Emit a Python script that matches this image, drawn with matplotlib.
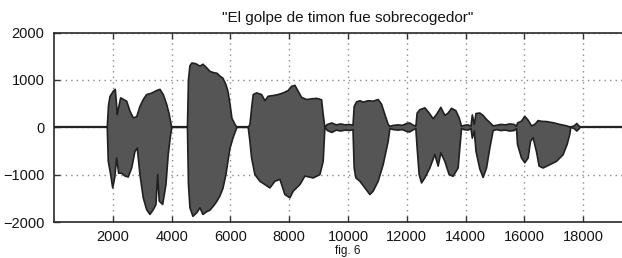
import numpy as np
import matplotlib.pyplot as plt

plt.rcParams['font.family'] = ['Liberation Sans', 'DejaVu Sans']

title = '"El golpe de timon fue sobrecogedor"'
caption = 'fig. 6'

upper_env = [
    (1812, 0), (1853, 450), (1904, 650), (2016, 760), (2084, 800), (2125, 500),
    (2152, 270), (2193, 400), (2268, 620), (2356, 590), (2472, 550), (2584, 340),
    (2696, 200), (2812, 220), (2924, 440), (3036, 585), (3152, 690), (3322, 720),
    (3492, 775), (3604, 800), (3716, 690), (3832, 485), (3920, 270), (4002, 0),
    (4539, 0), (4573, 1000), (4624, 1300), (4692, 1357), (4828, 1340), (4964, 1290),
    (5066, 1330), (5202, 1250), (5304, 1180), (5440, 1150), (5542, 1140), (5644, 1080),
    (5746, 1035), (5848, 900), (5916, 760), (5984, 500), (6052, 190), (6154, 60),
    (6222, 0), (6606, 0), (6664, 55), (6722, 410), (6776, 690), (6892, 725),
    (7062, 690), (7174, 560), (7286, 655), (7456, 670), (7626, 690), (7796, 725),
    (7966, 775), (8082, 865), (8194, 885), (8306, 760), (8422, 630), (8592, 585),
    (8762, 600), (8932, 610), (9102, 580), (9156, 270), (9214, 0),
    (9300, 60), (9450, 90), (9600, 50), (9750, 70), (9900, 50), (10050, 60), (10170, 40),
    (10210, 440), (10292, 535), (10404, 560), (10516, 530), (10686, 560), (10856, 550),
    (11026, 585), (11142, 485), (11254, 270), (11366, 60), (11424, 20),
    (11550, 40), (11700, 50), (11850, 40), (12000, 80), (12100, 90), (12200, 50), (12308, 20),
    (12352, 300), (12444, 370), (12614, 410), (12760, 300), (12896, 180), (13012, 270),
    (13158, 420), (13294, 250), (13406, 300), (13522, 400), (13668, 350), (13780, 200),
    (13862, 20), (13950, 40), (14080, 50), (14184, 20),
    (14228, 260), (14296, 60), (14354, 290), (14484, 300), (14596, 250), (14712, 165),
    (14824, 100), (14936, 30),
    (15050, 40), (15200, 60), (15350, 50), (15500, 70), (15650, 60), (15732, 20),
    (15766, 90), (15902, 130), (16014, 230), (16126, 150), (16242, 30), (16354, 60),
    (16466, 140), (16582, 125), (16752, 120), (16976, 95), (17204, 60), (17432, 30),
    (17568, 0), (17700, 30), (17780, 80), (17850, 30), (17900, 0),
]

lower_env = [
    (1812, 0), (1846, -720), (1928, -1000), (1996, -1280), (2064, -1070), (2132, -650),
    (2200, -970), (2302, -970), (2414, -1030), (2526, -1050), (2642, -860), (2754, -510),
    (2832, -440), (2924, -1000), (3036, -1490), (3152, -1740), (3264, -1840), (3376, -1740),
    (3468, -1630), (3526, -1000), (3580, -1560), (3696, -1630), (3808, -1210), (3886, -570),
    (3968, -150), (4012, 0),
    (4539, 0), (4573, -1200), (4624, -1700), (4726, -1880), (4862, -1800), (4964, -1700),
    (5066, -1840), (5202, -1780), (5304, -1750), (5440, -1650), (5542, -1560), (5644, -1450),
    (5746, -1290), (5848, -1000), (5916, -720), (5984, -450), (6086, -230), (6222, 0),
    (6606, 0), (6664, -300), (6722, -650), (6834, -1000), (7004, -1140), (7174, -1210),
    (7344, -1280), (7514, -1140), (7684, -1100), (7854, -1420), (8024, -1490), (8136, -1350),
    (8364, -1210), (8534, -1030), (8816, -1070), (9044, -1000), (9156, -720), (9214, 0),
    (9300, -70), (9450, -110), (9600, -60), (9750, -80), (9900, -60), (10050, -70), (10170, -50),
    (10210, -860), (10268, -1070), (10404, -1140), (10574, -1280), (10744, -1420), (10856, -1350),
    (11026, -1140), (11196, -790), (11366, -300), (11424, -30),
    (11550, -50), (11700, -60), (11850, -50), (12000, -90), (12100, -100), (12200, -60), (12308, -30),
    (12352, -440), (12420, -1000), (12502, -1175), (12614, -1070), (12784, -860), (12954, -575),
    (13066, -820), (13158, -540), (13294, -720), (13440, -1000), (13576, -1035), (13746, -860),
    (13804, -440), (13862, -30), (13950, -50), (14080, -60), (14184, -30),
    (14228, -230), (14296, -80), (14354, -510), (14484, -880), (14596, -1060), (14712, -860),
    (14824, -440), (14936, -70),
    (15050, -50), (15200, -70), (15350, -60), (15500, -80), (15650, -70), (15732, -30),
    (15766, -365), (15902, -650), (16014, -750), (16126, -650), (16208, -300), (16296, -220),
    (16412, -520), (16500, -820), (16636, -860), (16864, -790), (17092, -720), (17316, -580),
    (17452, -365), (17544, -150), (17578, 0), (17700, -30), (17780, -80), (17850, -40), (17900, 0),
]

x_ticks = [2000, 4000, 6000, 8000, 10000, 12000, 14000, 16000, 18000]
y_ticks = [-2000, -1000, 0, 1000, 2000]
silence_level = 0

hi = np.array(upper_env, dtype=float)
lo = np.array(lower_env, dtype=float)
poly_x = np.concatenate([hi[:, 0], lo[::-1, 0]])
poly_y = np.concatenate([hi[:, 1], lo[::-1, 1]])

fig = plt.figure(figsize=(6.22, 2.58), dpi=100)
# plot box runs past the right edge of the scan
ax = fig.add_axes([54 / 622, 36 / 258, 588 / 622, 189.5 / 258])

ax.axhline(silence_level, color='#222222', lw=1.6, zorder=2)
ax.fill(poly_x, poly_y, facecolor='#555555', edgecolor='#202020', lw=1.2,
        joinstyle='round', zorder=3)

ax.set_xlim(0, 20000)
ax.set_ylim(-2000, 2000)
ax.set_xticks(x_ticks)
ax.set_yticks(y_ticks)
ax.grid(True, color='#8a8a8a', linestyle=(0, (1, 3)), lw=1.0)
ax.tick_params(direction='in', top=True, right=True, length=4, width=1,
               labelsize=10.5, labelcolor='#141414', color='#333333')
ax.tick_params(axis='y', pad=7)
ax.tick_params(axis='x', pad=6)
for s in ax.spines.values():
    s.set_linewidth(1.2)
    s.set_color('#2a2a2a')

fig.text(348 / 622, 1 - 18 / 258, title, ha='center', va='center',
         fontsize=11, color='#141414')
fig.text(348 / 622, 1 - 257 / 258, caption, ha='center', va='bottom',
         fontsize=8.5, color='#141414')

fig.savefig('out.png', dpi=100)
